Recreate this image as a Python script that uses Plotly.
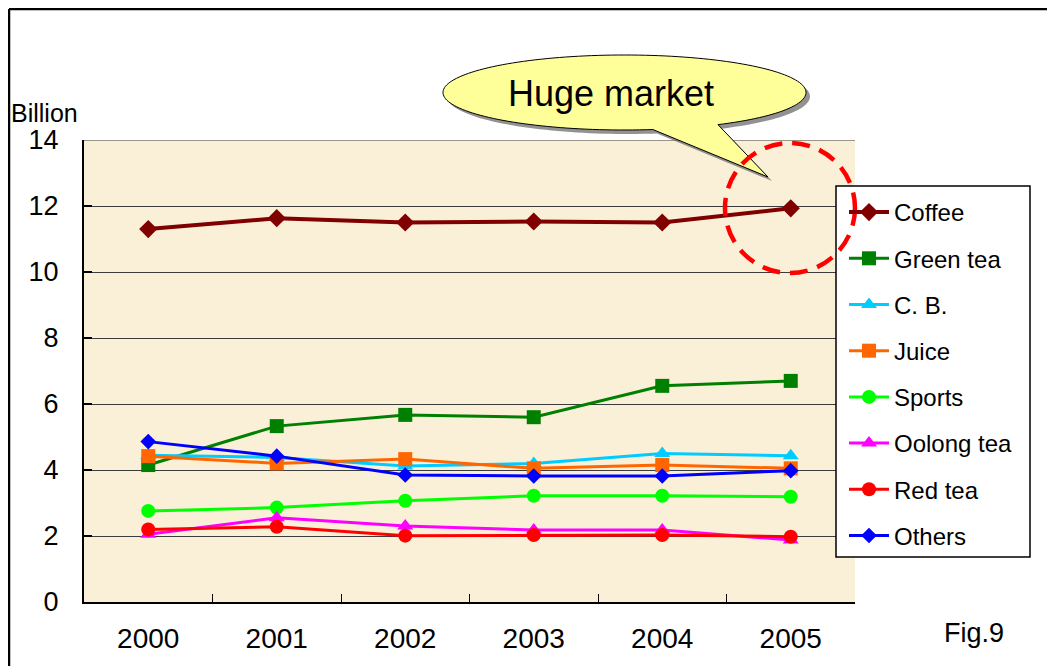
import numpy as np
import plotly.graph_objects as go

# ---------------- data ----------------
years = ["2000", "2001", "2002", "2003", "2004", "2005"]
coffee = [11.30, 11.63, 11.50, 11.53, 11.50, 11.93]
green_tea = [4.15, 5.33, 5.67, 5.60, 6.55, 6.70]
cb = [4.45, 4.38, 4.12, 4.20, 4.50, 4.43]
juice = [4.42, 4.20, 4.33, 4.05, 4.15, 4.05]
sports = [2.76, 2.86, 3.07, 3.22, 3.22, 3.19]
oolong = [2.05, 2.55, 2.30, 2.18, 2.18, 1.88]
red_tea = [2.20, 2.28, 2.01, 2.03, 2.03, 1.98]
others = [4.86, 4.42, 3.85, 3.82, 3.82, 3.98]

series_names = ["Coffee", "Green tea", "C. B.", "Juice", "Sports", "Oolong tea", "Red tea", "Others"]
series_values = [coffee, green_tea, cb, juice, sports, oolong, red_tea, others]
y_ticks = [0, 2, 4, 6, 8, 10, 12, 14]

# ---------------- styles ----------------
colors = ["#800000", "#008000", "#00CCFF", "#FF6600", "#00FF00", "#FF00FF", "#FF0000", "#0000FF"]
symbols = ["diamond", "square", "triangle-up", "square", "circle", "triangle-up", "circle", "diamond"]
msizes = [14, 14, 14, 14, 14, 14, 14, 12]
lwidths = [4, 3, 3, 3, 3, 3, 3, 3]

FONT = "Liberation Sans, Arial, sans-serif"
OFF = 8  # page body margin
W, H = 1055 - OFF, 666 - OFF
L, R, T, B = 84 - OFF, 200, 140 - OFF, 64
PW, PH = W - L - R, H - T - B


def px(x):
    # x given in screen pixels of the reference picture
    return (x - OFF - L) / PW


def py(y):
    return (H - B - (y - OFF)) / PH


fig = go.Figure()
for i, (name, vals) in enumerate(zip(series_names, series_values)):
    fig.add_trace(go.Scatter(
        x=years, y=vals, name=name, mode="lines+markers",
        legendgroup=name,
        line=dict(color=colors[i], width=lwidths[i]),
        marker=dict(symbol=symbols[i], size=msizes[i], color=colors[i],
                    line=dict(width=0)),
    ))

# ---------------- callout ----------------
cx, cy, rx, ry = 624.5, 92.5, 181.5, 37.5
tip = (768, 177)
t_start, t_end = np.deg2rad(59), np.deg2rad(59 - 338)


def callout_path(dx=0.0, dy=0.0):
    ts = np.linspace(t_start, t_end, 160)
    pts = [(cx + rx * np.cos(t), cy + ry * np.sin(t)) for t in ts]
    pts = [(tip[0], tip[1])] + pts
    return "M " + " L ".join(f"{px(x + dx):.5f},{py(y + dy):.5f}" for x, y in pts) + " Z"


shapes = []
# frame
shapes.append(dict(type="line", xref="paper", yref="paper", x0=px(9), x1=px(1060), y0=py(9), y1=py(9),
                   line=dict(color="#000000", width=2.5)))
shapes.append(dict(type="line", xref="paper", yref="paper", x0=px(9), x1=px(9), y0=py(9), y1=py(670),
                   line=dict(color="#000000", width=2.5)))
# top gridline (value 14)
shapes.append(dict(type="line", xref="paper", yref="y", x0=0, x1=1, y0=y_ticks[-1], y1=y_ticks[-1],
                   line=dict(color="#3C3C3C", width=1), layer="below"))
# legend box
shapes.append(dict(type="rect", xref="paper", yref="paper", x0=px(836), x1=px(1030), y0=py(557), y1=py(186),
                   fillcolor="#FFFFFF", line=dict(color="#000000", width=1.5), layer="above"))
# callout shadow and body
shapes.append(dict(type="path", xref="paper", yref="paper", path=callout_path(4, 4),
                   fillcolor="rgba(110,110,110,0.75)", line=dict(width=0), layer="above"))
shapes.append(dict(type="path", xref="paper", yref="paper", path=callout_path(),
                   fillcolor="#FFFF99", line=dict(color="#000000", width=1), layer="above"))
# red dashed circle
shapes.append(dict(type="circle", xref="paper", yref="paper",
                   x0=px(725), x1=px(855), y0=py(273), y1=py(143),
                   line=dict(color="#FF0000", width=4.5, dash="18px,10px"), layer="above"))

annotations = [
    dict(text="Huge market", x=px(611), y=py(94), xref="paper", yref="paper", showarrow=False,
         font=dict(family=FONT, size=36, color="#000000"), xanchor="center", yanchor="middle"),
    dict(text="Billion", x=px(9), y=py(113), xref="paper", yref="paper", showarrow=False,
         font=dict(family=FONT, size=25, color="#000000"), xanchor="left", yanchor="middle"),
    dict(text="Fig.9", x=px(974), y=py(633), xref="paper", yref="paper", showarrow=False,
         font=dict(family=FONT, size=27, color="#000000"), xanchor="center", yanchor="middle"),
]

fig.update_layout(
    width=W, height=H,
    margin=dict(l=L, r=R, t=T, b=B, autoexpand=False),
    paper_bgcolor="#FFFFFF",
    plot_bgcolor="#FAF0D8",
    font=dict(family=FONT, color="#000000"),
    shapes=shapes,
    annotations=annotations,
    legend=dict(
        x=px(844), y=py(190), xanchor="left", yanchor="top",
        bgcolor="rgba(0,0,0,0)", borderwidth=0,
        font=dict(family=FONT, size=24, color="#000000"),
        tracegroupgap=12, itemwidth=40,
    ),
    xaxis=dict(
        type="category", range=[-0.5, 5.5], tickson="boundaries",
        ticks="inside", ticklen=8, tickcolor="#000000", tickwidth=1,
        showline=True, linecolor="#000000", linewidth=1.5,
        showgrid=False, zeroline=False,
        tickfont=dict(family=FONT, size=28, color="#000000"),
        ticklabelstandoff=11,
    ),
    yaxis=dict(
        range=[0, 14], tickvals=y_ticks, ticktext=[str(v) for v in y_ticks],
        ticks="inside", ticklen=8, tickcolor="#000000", tickwidth=1.5,
        showline=True, linecolor="#000000", linewidth=2,
        showgrid=True, gridcolor="#3C3C3C", gridwidth=1, zeroline=False,
        tickfont=dict(family=FONT, size=27, color="#000000"),
        ticklabelstandoff=18,
    ),
    showlegend=True,
)

fig.write_html("out.html")
